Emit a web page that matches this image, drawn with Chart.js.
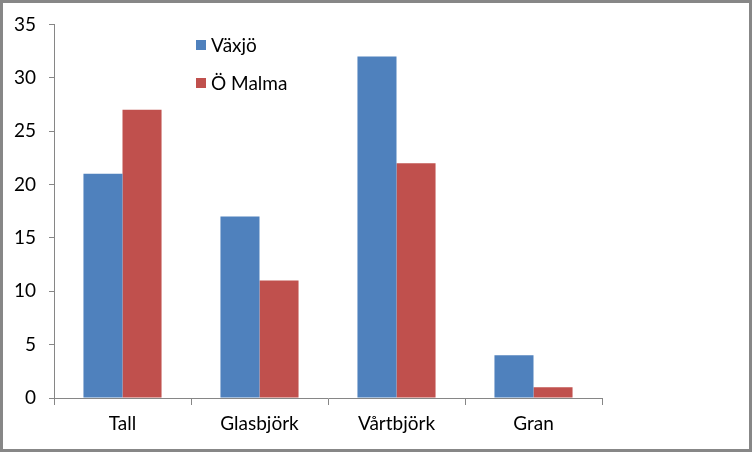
<!DOCTYPE html>
<html>
<head>
<meta charset="utf-8">
<script src="https://cdn.jsdelivr.net/npm/chart.js@4"></script>
<style>
  html, body { margin: 0; padding: 0; background: #fff; }
  #wrap { width: 752px; height: 452px; position: relative; }
</style>
</head>
<body>
<div id="wrap"><canvas id="chart" width="752" height="452"></canvas></div>
<script>
// Data
const categories = ['Tall', 'Glasbjörk', 'Vårtbjörk', 'Gran'];
const vaxjo = [21, 17, 32, 4];
const oMalma = [27, 11, 22, 1];
const yTicks = [0, 5, 10, 15, 20, 25, 30, 35];

const axisGray = '#868686';
const fontFamily = 'Lato, "Open Sans", sans-serif';

// legend drawn inside the plot, stacked vertically
const insideLegend = {
    id: 'insideLegend',
    afterDraw(chart) {
        const ctx = chart.ctx;
        ctx.save();
        ctx.font = '19px ' + fontFamily;
        ctx.textBaseline = 'middle';
        chart.data.datasets.forEach((ds, i) => {
            const y = 45 + i * 38;
            ctx.fillStyle = ds.backgroundColor;
            ctx.fillRect(196, y - 5, 10, 10);
            ctx.fillStyle = '#000';
            ctx.fillText(ds.label, 211, y + 1);
        });
        ctx.restore();
    }
};

// outer frame
const frame = {
    id: 'frame',
    afterDraw(chart) {
        const ctx = chart.ctx;
        ctx.save();
        ctx.strokeStyle = '#878787';
        ctx.lineWidth = 3;
        ctx.strokeRect(1.5, 1.5, chart.width - 3, chart.height - 3);
        ctx.restore();
    }
};

new Chart(document.getElementById('chart').getContext('2d'), {
    type: 'bar',
    data: {
        labels: categories,
        datasets: [
            { label: 'Växjö', data: vaxjo, backgroundColor: '#4F81BD' },
            { label: 'Ö Malma', data: oMalma, backgroundColor: '#C0504D' }
        ]
    },
    options: {
        responsive: false,
        animation: false,
        layout: { padding: { left: 0, right: 150, top: 24, bottom: 0 } },
        plugins: { legend: { display: false }, tooltip: { enabled: false } },
        datasets: { bar: { categoryPercentage: 0.57, barPercentage: 1 } },
        scales: {
            x: {
                grid: { display: true, drawOnChartArea: false, offset: true, color: axisGray, tickLength: 7 },
                border: { color: axisGray, width: 1 },
                ticks: { color: '#000', font: { family: fontFamily, size: 19 }, padding: 7 },
                afterFit(scale) { scale.height = 54; }
            },
            y: {
                min: 0,
                max: 35,
                afterBuildTicks(scale) { scale.ticks = yTicks.map(v => ({ value: v })); },
                grid: { display: true, drawOnChartArea: false, color: axisGray, tickLength: 5 },
                border: { color: axisGray, width: 1 },
                ticks: { color: '#000', font: { family: fontFamily, size: 19 }, padding: 13 },
                afterFit(scale) { scale.width = 54; }
            }
        }
    },
    plugins: [insideLegend, frame]
});
</script>
</body>
</html>
